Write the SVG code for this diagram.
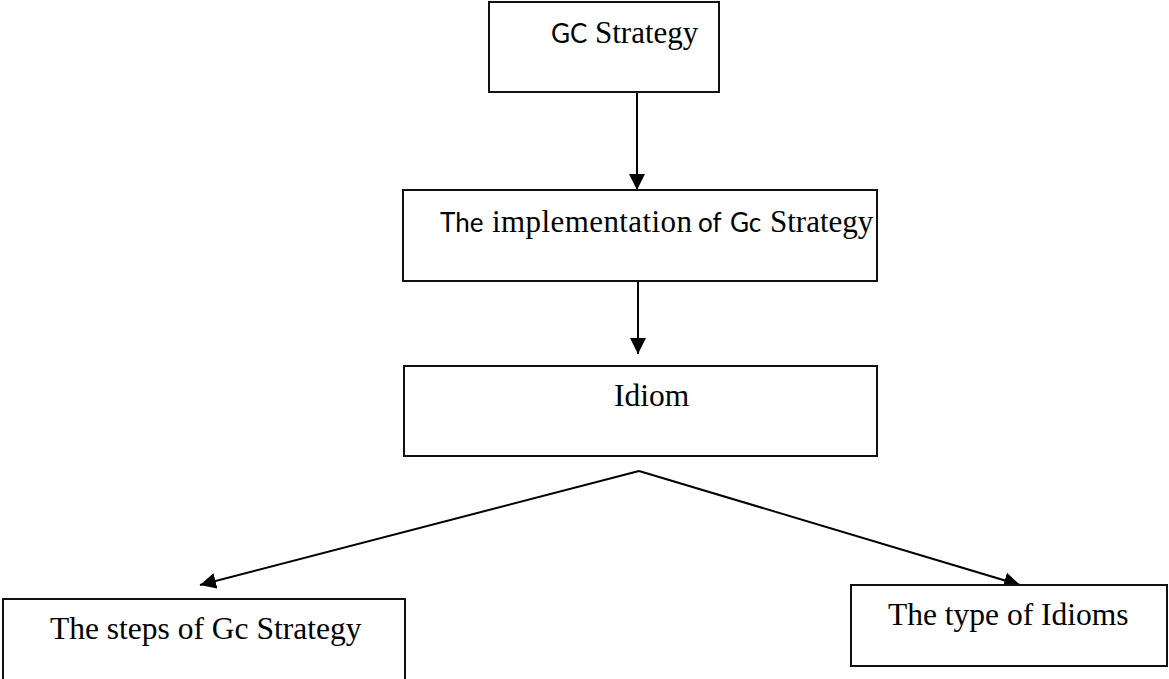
<svg xmlns="http://www.w3.org/2000/svg" width="1169" height="679" viewBox="0 0 1169 679">
<style>
.box{fill:#fff;stroke:#111;stroke-width:2}
.serif{font-family:"Liberation Serif","Times New Roman",serif;font-size:31px;fill:#000}
.sans{font-family:Lato,"Open Sans","Liberation Sans",sans-serif;font-size:26px;fill:#000}
.big{font-family:"Liberation Serif","Times New Roman",serif;font-size:31.5px;fill:#000}
.conn{stroke:#000;stroke-width:2;fill:none}
</style>
<defs>
<marker id="ah" markerUnits="userSpaceOnUse" markerWidth="18" markerHeight="16" refX="16" refY="8" orient="auto">
<path d="M0,0 L16,8 L0,16 Z" fill="#000"/>
</marker>
</defs>
<rect width="1169" height="679" fill="#fff"/>
<g id="connectors">
<line class="conn" x1="637" y1="92" x2="637" y2="190" marker-end="url(#ah)"/>
<line class="conn" x1="638" y1="281" x2="638" y2="354" marker-end="url(#ah)"/>
<line class="conn" x1="639" y1="471" x2="200" y2="585" marker-end="url(#ah)"/>
<line class="conn" x1="639" y1="471" x2="1020" y2="585" marker-end="url(#ah)"/>
</g>
<g id="node-gc-strategy">
<rect class="box" x="489" y="2" width="230" height="90"/>
<text y="43"><tspan class="sans" x="551">GC</tspan><tspan class="serif" x="595">Strategy</tspan></text>
</g>
<g id="node-implementation">
<rect class="box" x="403" y="190" width="474" height="91"/>
<text y="232"><tspan class="sans" x="440">The</tspan><tspan class="serif" x="492" textLength="200" lengthAdjust="spacing">implementation</tspan><tspan class="sans" x="698">of</tspan><tspan class="sans" x="730">Gc</tspan><tspan class="serif" x="770">Strategy</tspan></text>
</g>
<g id="node-idiom">
<rect class="box" x="404" y="366" width="473" height="90"/>
<text class="big" x="614" y="406">Idiom</text>
</g>
<g id="node-steps">
<rect class="box" x="3" y="599" width="402" height="95"/>
<text class="big" x="50" y="639">The steps of Gc Strategy</text>
</g>
<g id="node-type">
<rect class="box" x="851" y="585" width="316" height="81"/>
<text class="big" x="888" y="625">The type of Idioms</text>
</g>
</svg>
